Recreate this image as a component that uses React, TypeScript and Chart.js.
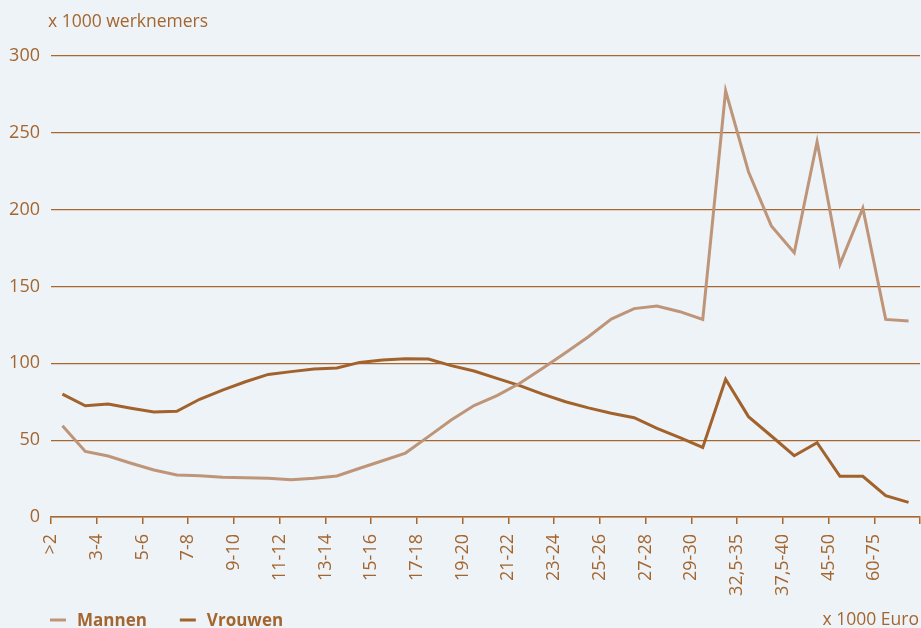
import { useEffect, useRef } from "react";
import { Chart, registerables } from "chart.js";

Chart.register(...registerables);

// Income classes (x 1000 Euro), one per data point
const categories = [
  ">2", "2-3", "3-4", "4-5", "5-6", "6-7", "7-8", "8-9", "9-10", "10-11",
  "11-12", "12-13", "13-14", "14-15", "15-16", "16-17", "17-18", "18-19", "19-20", "20-21",
  "21-22", "22-23", "23-24", "24-25", "25-26", "26-27", "27-28", "28-29", "29-30", "30-32,5",
  "32,5-35", "35-37,5", "37,5-40", "40-45", "45-50", "50-60", "60-75", "75+",
];

// Labels shown on every second class boundary
const tickLabels = [
  ">2", "3-4", "5-6", "7-8", "9-10", "11-12", "13-14", "15-16", "17-18", "19-20",
  "21-22", "23-24", "25-26", "27-28", "29-30", "32,5-35", "37,5-40", "45-50", "60-75", "",
];

// x 1000 werknemers
const mannen = [
  59.4, 42.7, 39.7, 35, 30.6, 27.3, 26.9, 25.8, 25.6, 25.2,
  24.3, 25.2, 26.7, 31.7, 36.6, 41.6, 52.3, 63.1, 72.5, 79,
  87, 96.8, 106.9, 117.3, 128.8, 135.6, 137.3, 133.6, 128.6, 277.4,
  224.7, 189.4, 172, 244.2, 164.4, 201, 128.6, 127.5,
];

const vrouwen = [
  80, 72.4, 73.5, 70.8, 68.3, 68.8, 76.6, 82.6, 88, 92.8,
  94.6, 96.3, 97, 100.6, 102.2, 103, 102.8, 98.5, 95, 90.2,
  85.5, 80, 75, 71, 67.5, 64.6, 57.7, 51.6, 45.3, 89.6,
  65.3, 52.7, 39.9, 48.4, 26.5, 26.5, 13.9, 9.5,
];

const seriesNames = ["Mannen", "Vrouwen"];
const seriesColors = ["#BE9578", "#A2622B"];

const yLabel = "x 1000 werknemers";
const xLabel = "x 1000 Euro";

const BG = "#EEF3F8";
const TEXT = "#A4662F";
const GRID = "#A8672F";
const FONT = "'Open Sans', 'Noto Sans', sans-serif";

const decorPlugin = {
  id: "decor",
  beforeDraw(chart: any) {
    const { ctx, width, height } = chart;
    ctx.save();
    ctx.fillStyle = BG;
    ctx.fillRect(0, 0, width, height);
    ctx.restore();
  },
  afterDraw(chart: any) {
    const { ctx, chartArea } = chart;
    ctx.save();
    ctx.fillStyle = TEXT;
    ctx.textBaseline = "middle";
    ctx.font = `17.5px ${FONT}`;
    ctx.textAlign = "left";
    ctx.fillText(yLabel, chartArea.left - 3, 22);
    ctx.textAlign = "right";
    ctx.fillText(xLabel, chartArea.right - 1, 620);

    // legend
    let x = chartArea.left - 1;
    const y = 620;
    ctx.textAlign = "left";
    ctx.font = `bold 17px ${FONT}`;
    chart.data.datasets.forEach((ds: any) => {
      ctx.strokeStyle = ds.borderColor;
      ctx.lineWidth = 3;
      ctx.beginPath();
      ctx.moveTo(x, y);
      ctx.lineTo(x + 16, y);
      ctx.stroke();
      ctx.fillStyle = TEXT;
      ctx.fillText(ds.label, x + 27, y + 1);
      x += 27 + ctx.measureText(ds.label).width + 33;
    });
    ctx.restore();
  },
};

export default function App() {
  const ref = useRef<HTMLCanvasElement>(null);

  useEffect(() => {
    if (!ref.current) return;
    const chart = new Chart(ref.current, {
      type: "line",
      data: {
        datasets: [mannen, vrouwen].map((vals, s) => ({
          label: seriesNames[s],
          data: vals.map((v, i) => ({ x: i + 0.5, y: v, c: categories[i] })),
          borderColor: seriesColors[s],
          backgroundColor: seriesColors[s],
          borderWidth: 3,
          pointRadius: 0,
          tension: 0,
          fill: false,
        })),
      },
      options: {
        animation: false,
        responsive: false,
        maintainAspectRatio: false,
        layout: { padding: { top: 56, right: 1, left: 0, bottom: 0 } },
        plugins: {
          legend: { display: false },
          title: { display: false },
          tooltip: { enabled: false },
        },
        scales: {
          x: {
            type: "linear",
            min: 0,
            max: categories.length,
            afterFit: (scale: any) => {
              scale.height = 111;
              scale.paddingLeft = 0;
              scale.paddingRight = 0;
            },
            border: { display: true, color: GRID, width: 1.5 },
            grid: {
              display: true,
              drawOnChartArea: false,
              drawTicks: true,
              tickLength: 7,
              color: GRID,
              lineWidth: 1.5,
            },
            ticks: {
              stepSize: 2,
              autoSkip: false,
              maxRotation: 90,
              minRotation: 90,
              padding: 10,
              color: TEXT,
              font: { family: FONT, size: 18 },
              callback: (value: any) => tickLabels[Math.round(Number(value) / 2)] ?? "",
            },
          },
          y: {
            min: 0,
            max: 300,
            afterFit: (scale: any) => {
              scale.width = 51;
            },
            border: { display: false },
            grid: {
              color: GRID,
              lineWidth: 1.3,
              drawTicks: false,
            },
            ticks: {
              stepSize: 50,
              padding: 11,
              color: TEXT,
              font: { family: FONT, size: 18 },
            },
          },
        },
      },
      plugins: [decorPlugin],
    } as any);
    return () => chart.destroy();
  }, []);

  return (
    <div style={{ position: "fixed", left: 0, top: 0, width: 921, height: 628, background: BG }}>
      <canvas ref={ref} width={921} height={628} style={{ display: "block", width: 921, height: 628 }} />
    </div>
  );
}
